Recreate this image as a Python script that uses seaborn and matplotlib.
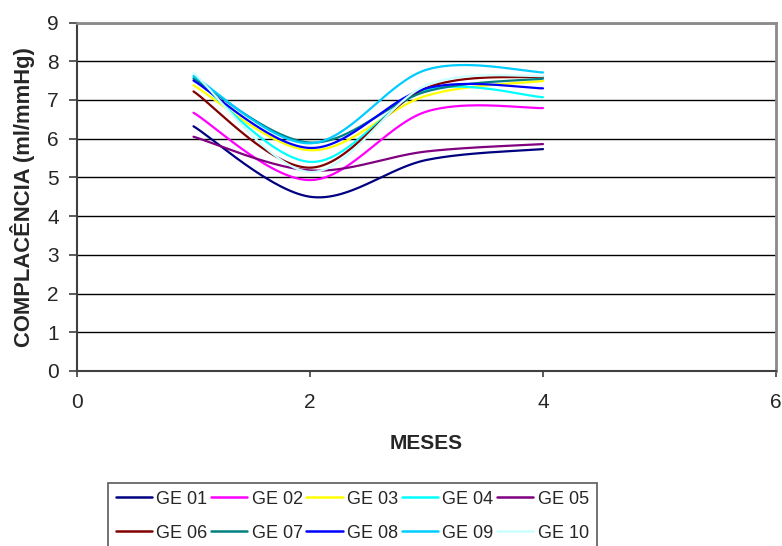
import numpy as np
import pandas as pd
import matplotlib
matplotlib.use("Agg")
import matplotlib.pyplot as plt
import seaborn as sns

# Months of follow-up and compliance per subject (ml/mmHg)
meses = [1, 2, 3, 4]
ge01 = [6.32, 4.50, 5.45, 5.73]
ge02 = [6.67, 4.93, 6.70, 6.79]
ge03 = [7.38, 5.70, 7.11, 7.49]
ge04 = [7.58, 5.40, 7.25, 7.07]
ge05 = [6.05, 5.18, 5.67, 5.86]
ge06 = [7.22, 5.25, 7.31, 7.60]
ge07 = [7.55, 5.90, 7.22, 7.55]
ge08 = [7.50, 5.76, 7.30, 7.30]
ge09 = [7.62, 5.88, 7.78, 7.71]
ge10 = [7.70, 5.14, 7.38, 7.62]

series_names = ["GE 01", "GE 02", "GE 03", "GE 04", "GE 05",
                "GE 06", "GE 07", "GE 08", "GE 09", "GE 10"]
series_values = [ge01, ge02, ge03, ge04, ge05, ge06, ge07, ge08, ge09, ge10]
colors = ["#000080", "#FF00FF", "#FFFF00", "#00FFFF", "#800080",
          "#800000", "#008080", "#0000FF", "#00CCFF", "#CCFFFF"]

x_ticks = [0, 2, 4, 6]
y_ticks = list(range(0, 10))


def smooth(xs, ys, n=60):
    """Cardinal (Catmull-Rom) spline through the points, like a smoothed line chart."""
    xs = np.asarray(xs, float)
    ys = np.asarray(ys, float)
    px = np.concatenate([[xs[0]], xs, [xs[-1]]])
    py = np.concatenate([[ys[0]], ys, [ys[-1]]])
    out_x, out_y = [], []
    for i in range(1, len(px) - 2):
        t = np.linspace(0, 1, n, endpoint=(i == len(px) - 3))
        p0, p1, p2, p3 = py[i - 1], py[i], py[i + 1], py[i + 2]
        q0, q1, q2, q3 = px[i - 1], px[i], px[i + 1], px[i + 2]
        # Bezier control points at one sixth of the neighbour differences
        b1y, b2y = p1 + (p2 - p0) / 6, p2 - (p3 - p1) / 6
        b1x, b2x = q1 + (q2 - q0) / 6, q2 - (q3 - q1) / 6
        mt = 1 - t
        out_y.append(mt**3 * p1 + 3 * mt**2 * t * b1y + 3 * mt * t**2 * b2y + t**3 * p2)
        out_x.append(mt**3 * q1 + 3 * mt**2 * t * b1x + 3 * mt * t**2 * b2x + t**3 * q2)
    return np.concatenate(out_x), np.concatenate(out_y)


frames = []
for name, vals in zip(series_names, series_values):
    sx, sy = smooth(meses, vals)
    frames.append(pd.DataFrame({"MESES": sx, "COMPLACENCIA": sy, "serie": name}))
df = pd.concat(frames, ignore_index=True)

sns.set_theme(style="white")
plt.rcParams["font.family"] = ["Liberation Sans", "DejaVu Sans"]

fig = plt.figure(figsize=(7.82, 5.46), dpi=100)
ax = fig.add_axes([77 / 782, 1 - 371 / 546, (776 - 77) / 782, (371 - 22.5) / 546])

sns.lineplot(data=df, x="MESES", y="COMPLACENCIA", hue="serie",
             hue_order=series_names, palette=dict(zip(series_names, colors)),
             sort=False, estimator=None, linewidth=1.6, ax=ax, legend=False)

ax.set_xlim(0, 6)
ax.set_ylim(0, 9)
ax.set_xticks(x_ticks)
ax.set_yticks(y_ticks)
ax.set_xticklabels([str(v) for v in x_ticks])
ax.set_yticklabels([str(v) for v in y_ticks])
ax.yaxis.grid(True, color="#000000", linewidth=1.0)
ax.xaxis.grid(False)
ax.set_axisbelow(True)

for side in ["left", "bottom"]:
    ax.spines[side].set_color("#404040")
    ax.spines[side].set_linewidth(1.5)
for side in ["top", "right"]:
    ax.spines[side].set_visible(True)
    ax.spines[side].set_color("#8a8a8a")
    ax.spines[side].set_linewidth(2.0)

ax.tick_params(axis="y", which="major", direction="out", length=6, width=1.2,
               color="#404040", pad=7, labelsize=15, left=True)
ax.tick_params(axis="x", which="major", direction="out", length=4.5, width=1.2,
               color="#404040", pad=11, labelsize=15, bottom=True)

ax.set_xlabel("MESES", fontsize=15, fontweight="bold", labelpad=16)
ax.set_ylabel("COMPLACÊNCIA (ml/mmHg)", fontsize=15.8, fontweight="bold", labelpad=9)

# Legend filled row by row (matplotlib fills columns first)
ncol = 5
order = [r * ncol + c for c in range(ncol) for r in range(2)]
handles = [plt.Line2D([], [], color=c, linewidth=1.8) for c in colors]
leg = fig.legend([handles[i] for i in order], [series_names[i] for i in order],
                 loc="upper left", bbox_to_anchor=(108 / 782, 1 - 483 / 546),
                 ncol=ncol, fontsize=13, frameon=True, fancybox=False,
                 shadow=False, handlelength=2.0, handletextpad=0.25,
                 columnspacing=0.2, labelspacing=0.95, borderpad=0.42,
                 borderaxespad=0)
leg.get_frame().set_edgecolor("#303030")
leg.get_frame().set_linewidth(1.2)

fig.savefig("out.png", dpi=100)
